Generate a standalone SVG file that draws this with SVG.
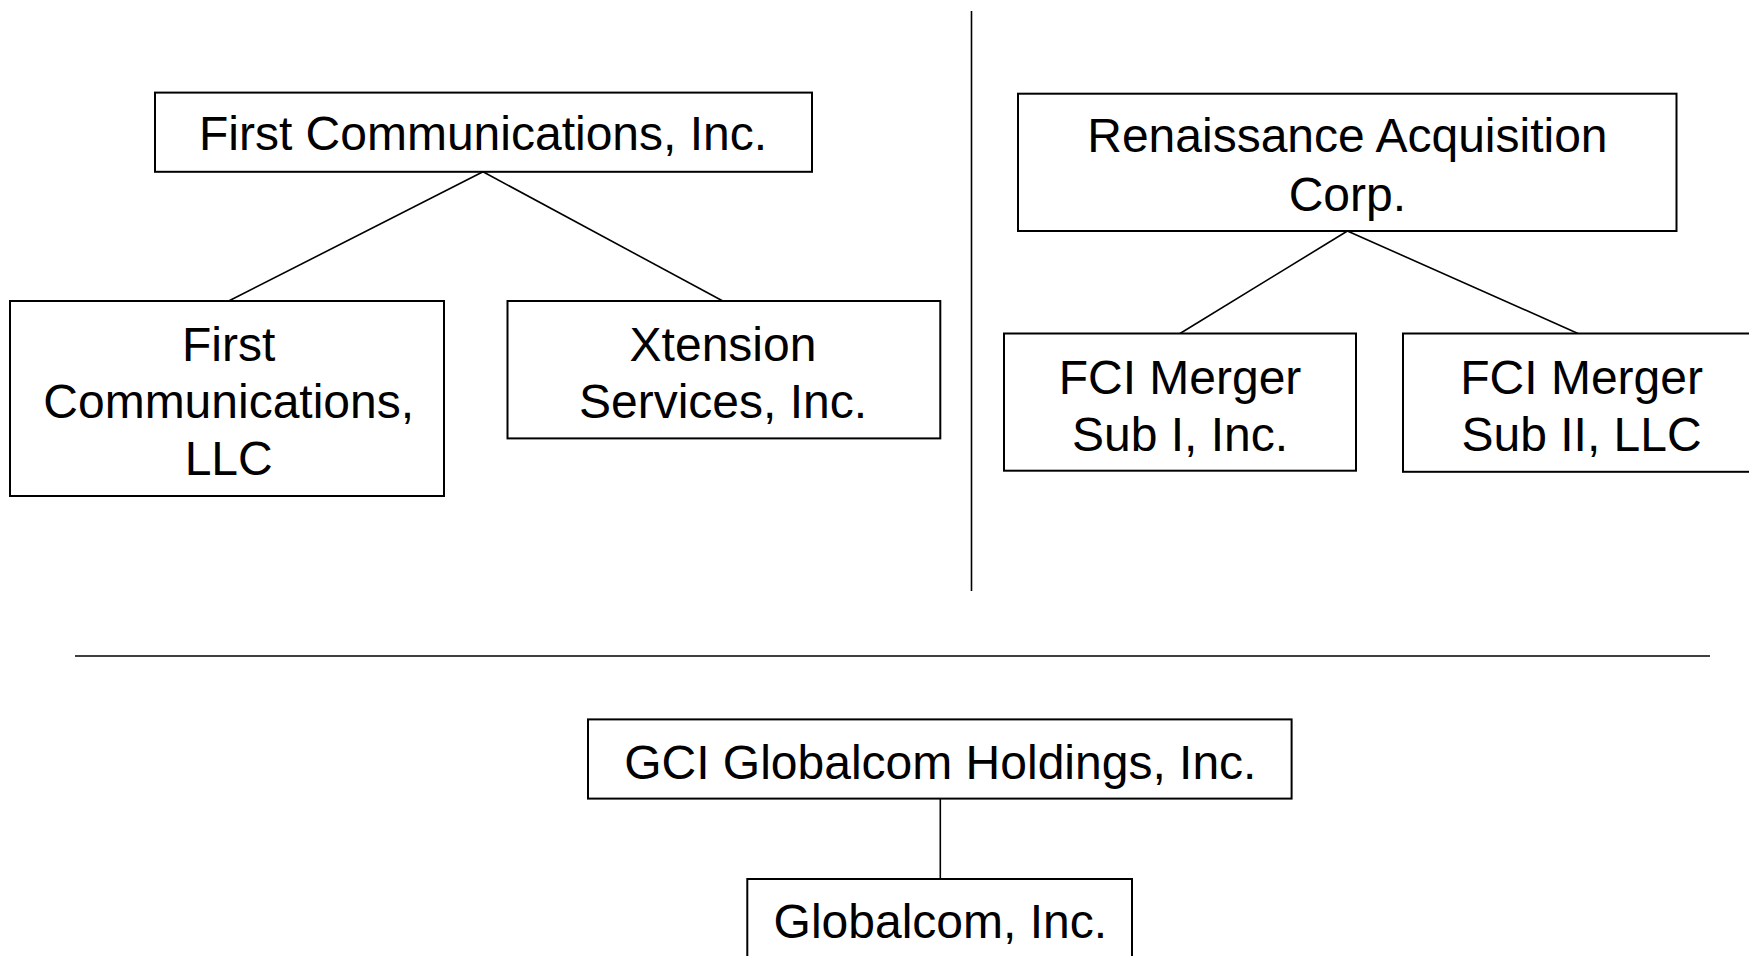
<svg xmlns="http://www.w3.org/2000/svg" width="1749" height="956" viewBox="0 0 1749 956">
<style>
.box{fill:#fff;stroke:#000;stroke-width:2}
.ln{stroke:#000;stroke-width:1.6;fill:none}
text{font-family:"Liberation Sans",Arial,sans-serif;font-size:48px;fill:#000;text-anchor:middle}
</style>
<rect width="1749" height="956" fill="#fff"/>
<g id="connectors">
<line class="ln" x1="971.5" y1="11" x2="971.5" y2="591"/>
<line class="ln" x1="75" y1="656" x2="1710" y2="656"/>
<line class="ln" x1="483" y1="171.8" x2="228.7" y2="301"/>
<line class="ln" x1="483" y1="171.8" x2="722.8" y2="301"/>
<line class="ln" x1="1347.4" y1="231" x2="1180" y2="333.5"/>
<line class="ln" x1="1347.4" y1="231" x2="1578" y2="333.5"/>
<line class="ln" x1="940.3" y1="798.6" x2="940.3" y2="879"/>
</g>
<g id="first-communications-inc">
<rect class="box" x="155" y="92.6" width="657" height="79.2"/>
<text x="483" y="150">First Communications, Inc.</text>
</g>
<g id="first-communications-llc">
<rect class="box" x="10" y="301" width="434" height="195"/>
<text x="228.7" y="361">First</text>
<text x="228.7" y="418">Communications,</text>
<text x="228.7" y="475">LLC</text>
</g>
<g id="xtension-services">
<rect class="box" x="507.5" y="301" width="432.8" height="137.4"/>
<text x="723" y="361">Xtension</text>
<text x="723" y="418">Services, Inc.</text>
</g>
<g id="renaissance-acquisition">
<rect class="box" x="1018" y="93.7" width="658.5" height="137.3"/>
<text x="1347.4" y="152">Renaissance Acquisition</text>
<text x="1347.4" y="211">Corp.</text>
</g>
<g id="fci-merger-sub-i">
<rect class="box" x="1004" y="333.5" width="352" height="137.2"/>
<text x="1180" y="394">FCI Merger</text>
<text x="1180" y="451">Sub I, Inc.</text>
</g>
<g id="fci-merger-sub-ii">
<rect class="box" x="1403" y="333.5" width="360" height="138.3"/>
<text x="1581.6" y="394">FCI Merger</text>
<text x="1581.6" y="451">Sub II, LLC</text>
</g>
<g id="gci-globalcom-holdings">
<rect class="box" x="588" y="719.4" width="703.6" height="79.2"/>
<text x="940.3" y="779">GCI Globalcom Holdings, Inc.</text>
</g>
<g id="globalcom-inc">
<rect class="box" x="747.3" y="879" width="384.7" height="100"/>
<text x="940.3" y="938">Globalcom, Inc.</text>
</g>
</svg>
